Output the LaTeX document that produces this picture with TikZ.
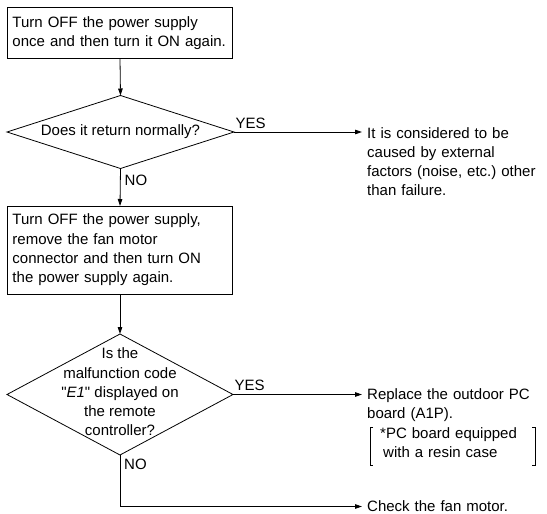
\documentclass[tikz,border=0pt]{standalone}
\usepackage{fontspec}
\setmainfont{Liberation Sans}
\usetikzlibrary{arrows.meta,shapes.geometric}

\begin{document}
\begin{tikzpicture}[x=1pt,y=-1pt,
  every node/.style={font=\fontsize{15}{19.3}\selectfont},
  line/.style={line width=0.8pt,draw=black},
  arr/.style={line, -{Triangle[length=7pt,width=4.5pt]}},
  stepbox/.style={line, rectangle, minimum width=225pt, inner xsep=5pt,
    text width=215pt, align=left, outer sep=0pt},
  decision/.style={line, diamond, inner sep=0pt, outer sep=0pt},
  dtext/.style={align=center, inner sep=0pt},
  result/.style={anchor=base west, align=left, inner xsep=5pt, inner ysep=0pt,
    text width=172pt},
  tag/.style={inner sep=0pt}
]
\useasboundingbox (0,0) rectangle (547,514);

% process steps
\node[stepbox, minimum height=51pt] (b1) at (120,33)
  {Turn OFF the power supply\\once and then turn it ON again.};
\node[decision, minimum width=227pt, minimum height=73pt] (d1) at (120.5,132) {};
\node[dtext] (d1t) at (d1.center) {Does it return normally?};

\node[stepbox, minimum height=88pt] (b2) at (120,250)
  {Turn OFF the power supply,\\remove the fan motor\\connector and then turn ON\\the power supply again.};
\node[decision, minimum width=226pt, minimum height=121pt] (d2) at (120,394.5) {};
\node[dtext] (d2t) at (120,392)
  {Is the\\malfunction code\\\textquotedbl\textit{E1}\textquotedbl\ displayed on\\the remote\\controller?};

% outcomes
\node[result] (r1) at (362,138)
  {It is considered to be\\caused by external\\factors (noise, etc.)\ other\\than failure.};
\node[result] (r2) at (362,399.5)
  {Replace the outdoor PC\\board (A1P).};
\node[result, inner xsep=10pt, text width=145pt] (note) at (370,438.5)
  {*PC board equipped\\\hspace*{3pt}with a resin case};
\node[result, text width=150pt] (r3) at (362,511.5) {Check the fan motor.};

% bracket around the note
\draw[line] ([xshift=3pt]note.north west) -- (note.north west)
  -- ([yshift=-7pt]note.south west) -- ([xshift=3pt,yshift=-7pt]note.south west);
\draw[line] ([xshift=-3pt]note.north east) -- (note.north east)
  -- ([yshift=-7pt]note.south east) -- ([xshift=-3pt,yshift=-7pt]note.south east);

% connectors
\draw[arr] (b1.south) -- (d1.north);
\draw[arr] (d1.east) -- (d1.east -| r1.west);
\draw[arr] (d1.south) -- (b2.north);
\draw[arr] (b2.south) -- (d2.north);
\draw[arr] (d2.east) -- (d2.east -| r2.west);
\draw[arr] (d2.south) |- ([yshift=5pt]r3.base west);

% branch labels
\node[tag, anchor=south west] (y1) at ([xshift=1.5pt,yshift=3.5pt]d1.east) {YES};
\node[tag, anchor=north west] (n1) at ([xshift=4pt,yshift=-6pt]d1.south) {NO};
\node[tag, anchor=south west] (y2) at ([xshift=1.5pt,yshift=3.5pt]d2.east) {YES};
\node[tag, anchor=north west] (n2) at ([xshift=4pt,yshift=-3.5pt]d2.south) {NO};
\end{tikzpicture}
\end{document}
